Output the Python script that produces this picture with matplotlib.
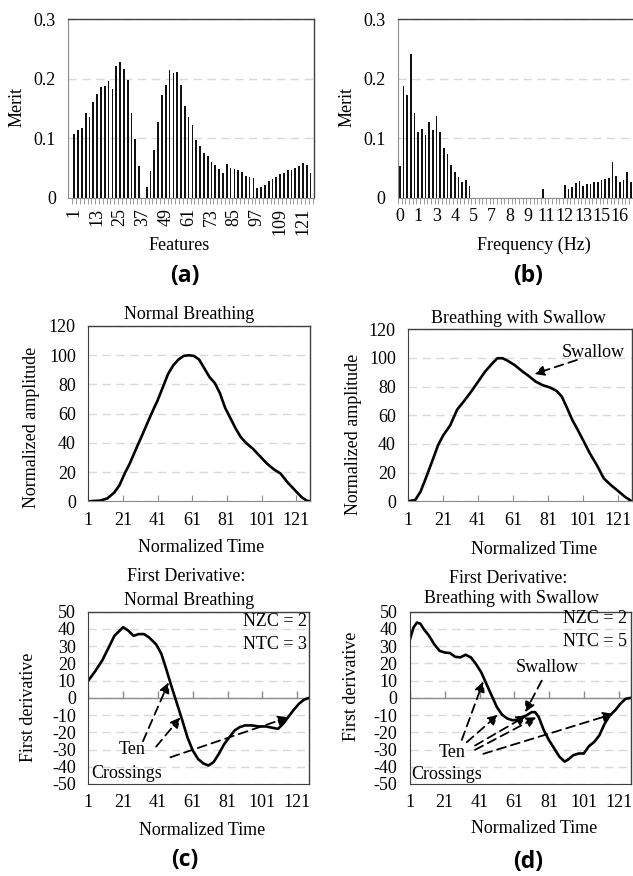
import matplotlib
matplotlib.use('Agg')
import matplotlib.pyplot as plt
import numpy as np

plt.rcParams['font.family'] = ['Liberation Serif', 'DejaVu Serif']
plt.rcParams['axes.unicode_minus'] = False

# ---------------- data ----------------
# (a) merit per feature (odd features 1..125)
a_features = list(range(1, 126, 2))
a_vals = [0.107, 0.114, 0.118, 0.142, 0.136, 0.161, 0.174, 0.186, 0.187, 0.196,
          0.183, 0.221, 0.228, 0.217, 0.197, 0.142, 0.099, 0.053, 0.0, 0.018,
          0.046, 0.080, 0.128, 0.173, 0.189, 0.214, 0.210, 0.211, 0.189, 0.155,
          0.136, 0.123, 0.098, 0.087, 0.075, 0.070, 0.061, 0.056, 0.049, 0.042,
          0.057, 0.050, 0.048, 0.047, 0.044, 0.037, 0.036, 0.033, 0.017, 0.018,
          0.022, 0.029, 0.032, 0.036, 0.040, 0.042, 0.047, 0.047, 0.051, 0.054,
          0.059, 0.056, 0.042]
a_ticklabels = ['1', '13', '25', '37', '49', '61', '73', '85', '97', '109', '121']

# (b) merit per frequency bin
b_vals = [0.053, 0.188, 0.173, 0.242, 0.142, 0.111, 0.115, 0.105, 0.128, 0.114,
          0.137, 0.111, 0.083, 0.073, 0.056, 0.043, 0.035, 0.026, 0.030, 0.020,
          0.0, 0.0, 0.0, 0.0, 0.0, 0.0, 0.0, 0.0, 0.0, 0.0,
          0.0, 0.0, 0.0, 0.0, 0.0, 0.0, 0.0, 0.0, 0.0, 0.015,
          0.0, 0.0, 0.0, 0.0, 0.0, 0.021, 0.015, 0.018, 0.025, 0.029,
          0.020, 0.023, 0.023, 0.027, 0.027, 0.030, 0.032, 0.034, 0.060, 0.037,
          0.027, 0.031, 0.044, 0.027]
b_ticklabels = ['0', '1', '3', '4', '5', '7', '8', '9', '11', '12', '13', '15', '16']
b_label_step = 5

merit_ticks = [0, 0.1, 0.2, 0.3]
merit_ticklabels = ['0', '0.1', '0.2', '0.3']

# (c) top: normal breathing
nb_t = [1, 8, 12, 16, 19, 22, 25, 29, 32, 36, 39, 41, 44, 47, 50, 53, 56, 59, 62, 65,
        68, 71, 74, 77, 80, 83, 86, 89, 92, 96, 100, 104, 108, 112, 116, 120, 124, 127, 129]
nb_v = [0, 0.5, 2, 6, 11, 19, 26, 37, 45, 56, 64, 69, 78, 87, 93, 97, 99.5, 100, 99.5, 97,
        91, 85, 81, 74, 64, 57, 50, 44, 40, 36, 31, 26, 22, 19, 13, 8, 3, 0.5, 0]

# (d) top: breathing with swallow
sw_t = [1, 5, 8, 11, 15, 18, 21, 25, 29, 33, 37, 41, 45, 49, 52, 55, 58, 62, 66, 70,
        74, 78, 82, 86, 89, 92, 95, 98, 101, 105, 109, 113, 117, 121, 125, 129]
sw_v = [0, 1, 6.7, 16, 29, 39, 46, 53, 64, 70, 76.5, 83.5, 90.5, 96, 99.8, 99.8, 98, 95, 91, 87.4,
        83.5, 81, 79.5, 77, 73, 65, 56.7, 50, 43, 33.5, 25.3, 16, 11.4, 7.4, 3.3, 0]

# (c) bottom: first derivative normal breathing
dnb_t = [1, 5, 9, 13, 16, 19, 21, 24, 27, 30, 33, 36, 40, 43, 46, 49, 52, 55, 58, 61,
         64, 67, 70, 73, 76, 79, 82, 85, 88, 91, 95, 99, 103, 107, 110, 113, 116, 119, 122, 125, 128]
dnb_v = [10, 15.5, 21.7, 29.8, 36, 39, 41, 39, 36, 37, 37, 35, 31, 25.5, 16, 6, -3.5, -13, -23, -30.5,
         -35.4, -38, -39.3, -37.3, -32.5, -27, -23, -19, -17, -16, -16, -16.6, -16.6, -17.4, -18, -15,
         -11, -7, -3.5, -1, 0]

# (d) bottom: first derivative breathing with swallow
dsw_t = [1, 3, 5, 7, 9, 12, 15, 18, 21, 24, 27, 30, 33, 36, 39, 42, 45, 48, 51, 54,
         57, 60, 63, 66, 68, 71, 73, 75, 78, 81, 84, 87, 90, 92, 95, 98, 101, 104, 107, 110,
         113, 116, 119, 122, 125, 128]
dsw_v = [34, 40.8, 43.7, 43, 39.8, 36, 31, 27.3, 26.3, 26, 23.8, 23.5, 25, 23.5, 19.6, 14.8, 8, 1.3, -5.4, -9.8,
         -12, -13, -12.7, -11, -10.2, -8.3, -8.3, -11, -18.8, -24.6, -29.4, -34.2, -37, -35.8, -33.3, -32.3,
         -32.3, -28, -25.6, -21.7, -15, -10.2, -7.3, -3.5, -0.6, 0]

time_ticks = [1, 21, 41, 61, 81, 101, 121]
amp_ticks = [0, 20, 40, 60, 80, 100, 120]
der_ticks = [-50, -40, -30, -20, -10, 0, 10, 20, 30, 40, 50]

# annotation arrows (start -> end, data coords)
c_arrows = [((32.4, -25.2), (47.2, 9.0)),
            ((40.0, -28.3), (54.0, -11.3)),
            ((48.2, -34.5), (116.0, -11.3))]
d_arrows = [((30.8, -24.4), (43.2, 9.6)),
            ((33.6, -25.8), (51.8, -9.7)),
            ((38.4, -27.7), (68.2, -10.3)),
            ((38.4, -30.2), (73.9, -11.3)),
            ((43.2, -32.5), (118.0, -9.3))]
d_swallow_arrow = ((76.8, 10.0), (67.2, -8.4))
top_swallow_arrow = ((97.6, 98.6), (73.1, 88.8))

# ---------------- figure ----------------
W, H = 633, 876
fig = plt.figure(figsize=(W / 100, H / 100), dpi=100)
FS = 13
GRID = dict(color='#d9d9d9', lw=1.0, ls=(0, (6, 4)))
AXG = '#8c8c8c'
BOX = '#404040'


def rect(l, r, t, b):
    return [l / W, 1 - b / H, (r - l) / W, (b - t) / H]


def style_box(ax, left=AXG, bottom=AXG):
    for s in ['top', 'right']:
        ax.spines[s].set_color(BOX)
        ax.spines[s].set_linewidth(1.0)
    ax.spines['left'].set_color(left)
    ax.spines['bottom'].set_color(bottom)
    ax.set_axisbelow(True)


def arrow(ax, start, end):
    ax.annotate('', xy=end, xytext=start,
                arrowprops=dict(arrowstyle='-|>,head_length=0.6,head_width=0.3',
                                ls=(0, (5, 3)), lw=1.3, color='black',
                                shrinkA=0, shrinkB=0))


# ---- (a) ----
ax = fig.add_axes(rect(68.3, 314.3, 19, 198))
xa = np.arange(len(a_vals))
ax.bar(xa, a_vals, width=0.45, color='#111111')
ax.set_xlim(-1.57, len(a_vals) - 0.03)
ax.set_ylim(0, 0.3)
ax.set_yticks(merit_ticks)
ax.set_yticklabels(merit_ticklabels)
ax.yaxis.grid(True, **GRID)
ax.set_xticks([a_features.index(int(s)) for s in a_ticklabels])
ax.set_xticklabels(a_ticklabels, rotation=90)
ax.set_xticks(np.arange(-0.5, len(a_vals), 1), minor=True)
ax.tick_params(axis='x', which='major', length=0, pad=7, labelsize=FS)
ax.tick_params(axis='x', which='minor', length=4, color=AXG, direction='out')
ax.tick_params(axis='y', length=0, pad=9, labelsize=FS)
style_box(ax)
ax.set_ylabel('Merit', fontsize=FS)
ax.yaxis.set_label_coords(-0.21, 0.506)
ax.set_xlabel('Features', fontsize=FS)
ax.xaxis.set_label_coords(0.45, -0.2626)
ax.xaxis.label.set_va('center')
ax.yaxis.label.set_va('center')

# ---- (b) ----
ax = fig.add_axes(rect(397.9, 632.8, 19, 198))
xb = np.arange(len(b_vals))
ax.bar(xb, b_vals, width=0.45, color='#111111')
ax.set_xlim(-0.5, len(b_vals) - 0.5)
ax.set_ylim(0, 0.3)
ax.set_yticks(merit_ticks)
ax.set_yticklabels(merit_ticklabels)
ax.yaxis.grid(True, **GRID)
ax.set_xticks(np.arange(len(b_ticklabels)) * b_label_step)
ax.set_xticklabels(b_ticklabels)
ax.set_xticks(np.arange(-0.5, len(b_vals), 1), minor=True)
ax.tick_params(axis='x', which='major', length=0, pad=7, labelsize=FS)
ax.tick_params(axis='x', which='minor', length=4, color=AXG, direction='out')
ax.tick_params(axis='y', length=0, pad=9, labelsize=FS)
style_box(ax)
ax.spines['right'].set_visible(False)
ax.set_ylabel('Merit', fontsize=FS)
ax.yaxis.set_label_coords(-0.218, 0.51)
ax.set_xlabel('Frequency (Hz)', fontsize=FS)
ax.xaxis.set_label_coords(0.579, -0.2626)
ax.xaxis.label.set_va('center')
ax.yaxis.label.set_va('center')


def amp_axes(r, t_vals, v_vals, title, tpos, ylab_pos, xlab_pos):
    ax = fig.add_axes(rect(*r))
    ax.plot(t_vals, v_vals, color='black', lw=1.9, solid_joinstyle='round')
    ax.set_xlim(1, 129)
    ax.set_ylim(0, 120)
    ax.set_yticks(amp_ticks)
    ax.yaxis.grid(True, **GRID)
    ax.set_xticks(time_ticks)
    ax.tick_params(axis='x', direction='in', length=4, color=AXG, pad=8, labelsize=FS)
    ax.tick_params(axis='y', length=0, pad=9, labelsize=FS)
    style_box(ax, left=BOX, bottom=AXG)
    ax.text(tpos[0], tpos[1], title, transform=ax.transAxes, ha='center', va='center', fontsize=FS)
    ax.set_ylabel('Normalized amplitude', fontsize=FS)
    ax.yaxis.set_label_coords(*ylab_pos)
    ax.set_xlabel('Normalized Time', fontsize=FS)
    ax.xaxis.set_label_coords(*xlab_pos)
    ax.xaxis.label.set_va('center')
    ax.yaxis.label.set_va('center')
    return ax


def der_axes(r, t_vals, v_vals, titles, ylab_pos, xlab_pos, nzc, ntc, npos):
    ax = fig.add_axes(rect(*r))
    ax.plot(t_vals, v_vals, color='black', lw=1.9, solid_joinstyle='round')
    ax.set_xlim(1, 128)
    ax.set_ylim(-50, 50)
    ax.set_yticks(der_ticks)
    ax.yaxis.grid(True, **GRID)
    ax.axhline(0, color=AXG, lw=1.0, zorder=1.5)
    ax.plot(time_ticks, [0] * len(time_ticks), ls='none', marker=2, ms=5, mew=1.0, color=AXG)
    ax.set_xticks(time_ticks)
    ax.tick_params(axis='x', length=0, pad=7, labelsize=FS)
    ax.tick_params(axis='y', length=0, pad=9, labelsize=FS)
    style_box(ax, left=BOX, bottom=BOX)
    for (txt, x, y) in titles:
        ax.text(x, y, txt, transform=ax.transAxes, ha='center', va='center', fontsize=FS)
    ax.set_ylabel('First derivative', fontsize=FS)
    ax.yaxis.set_label_coords(*ylab_pos)
    ax.set_xlabel('Normalized Time', fontsize=FS)
    ax.xaxis.set_label_coords(*xlab_pos)
    ax.xaxis.label.set_va('center')
    ax.yaxis.label.set_va('center')
    ax.text(npos[0], npos[1], nzc, transform=ax.transAxes, ha='right', va='center', fontsize=FS)
    ax.text(npos[0], npos[2], ntc, transform=ax.transAxes, ha='right', va='center', fontsize=FS)
    return ax


# ---- (c) top ----
amp_axes((88.3, 310, 326, 501.3), nb_t, nb_v, 'Normal Breathing', (0.456, 1.063),
         (-0.255, 0.42), (0.511, -0.261))

# ---- (d) top ----
ax = amp_axes((408.3, 631.7, 329.3, 501.3), sw_t, sw_v, 'Breathing with Swallow', (0.492, 1.064),
              (-0.246, 0.39), (0.563, -0.283))
ax.text(107, 103.7, 'Swallow', ha='center', va='center', fontsize=FS)
arrow(ax, *top_swallow_arrow)

# ---- (c) bottom ----
ax = der_axes((88.3, 309.3, 611.7, 784), dnb_t, dnb_v,
              [('First Derivative:', 0.445, 1.203), ('Normal Breathing', 0.456, 1.064)],
              (-0.271, 0.445), (0.513, -0.267), 'NZC = 2', 'NTC = 3', (0.988, 0.942, 0.807))
for s, e in c_arrows:
    arrow(ax, s, e)
ax.text(26, -30.2, 'Ten', ha='center', va='center', fontsize=FS)
ax.text(2.7, -43.8, 'Crossings', ha='left', va='center', fontsize=FS)

# ---- (d) bottom ----
ax = der_axes((410, 630.7, 611.7, 784), dsw_t, dsw_v,
              [('First Derivative:', 0.445, 1.194), ('Breathing with Swallow', 0.461, 1.074)],
              (-0.264, 0.565), (0.562, -0.257), 'NZC = 2', 'NTC = 5', (0.982, 0.961, 0.826))
for s, e in d_arrows:
    arrow(ax, s, e)
arrow(ax, *d_swallow_arrow)
ax.text(79.7, 17.8, 'Swallow', ha='center', va='center', fontsize=FS)
ax.text(25, -31.6, 'Ten', ha='center', va='center', fontsize=FS)
ax.text(2.0, -44.5, 'Crossings', ha='left', va='center', fontsize=FS)

# panel letters
for lab, x, y in [('(a)', 185, 276), ('(b)', 528.3, 276), ('(c)', 185, 860), ('(d)', 528.3, 861.7)]:
    fig.text(x / W, 1 - y / H, lab, fontfamily='Open Sans', fontweight='bold', fontsize=16.5,
             ha='center', va='center')

fig.savefig('out.png', dpi=100)
